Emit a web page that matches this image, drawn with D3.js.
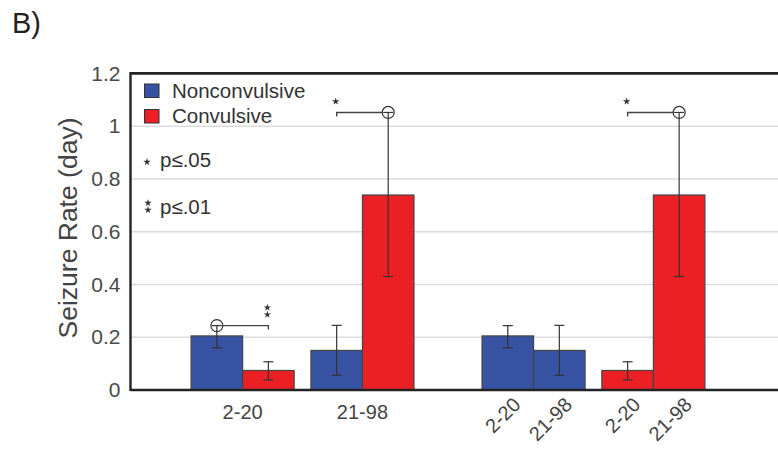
<!DOCTYPE html>
<html>
<head>
<meta charset="utf-8">
<script src="https://cdn.jsdelivr.net/npm/d3@7"></script>
<style>
  html, body { margin: 0; padding: 0; background: #fff; }
  svg { display: block; font-family: "Liberation Sans", Arial, Helvetica, sans-serif; }
</style>
</head>
<body>
<svg id="chart" width="778" height="449"></svg>
<script>
// Age groups and seizure types
const ageGroups = ["2-20", "21-98"];
const seizureTypes = ["Nonconvulsive", "Convulsive"];
const typeColors = ["#3953a4", "#ec2024"];

// Mean seizure rate per day, with lower / upper error bounds, by age group
const nonconvMean = [0.205, 0.150];
const nonconvLow  = [0.160, 0.056];
const nonconvHigh = [0.244, 0.245];
const convMean = [0.074, 0.739];
const convLow  = [0.038, 0.430];
const convHigh = [0.107, 1.052];

// Y axis ticks
const yTicks = [0, 0.2, 0.4, 0.6, 0.8, 1, 1.2];
const yTickLabels = ["0", "0.2", "0.4", "0.6", "0.8", "1", "1.2"];

// Significance markers, as [type, age] pairs: circle on the reference bar,
// bracket running to the compared bar
const sigMarks = [
  { panel: "byAge",  ref: [0, 0], target: [1, 0], stars: 2 },
  { panel: "byAge",  ref: [1, 1], target: [0, 1], stars: 1 },
  { panel: "byType", ref: [1, 1], target: [1, 0], stars: 1 }
];

const means = [nonconvMean, convMean];
const lows  = [nonconvLow, convLow];
const highs = [nonconvHigh, convHigh];

const svg = d3.select("#chart");
const W = 778;
const plotLeft = 130.5, plotTop = 73.4, plotBottom = 390;

const y = d3.scaleLinear().domain([0, 1.2]).range([plotBottom, plotTop]);

// Two panels: bars grouped by age, then grouped by seizure type
const panels = ["byAge", "byType"];
const xPanel = d3.scaleBand().domain(panels).range([130, 766])
  .paddingInner(0.234).paddingOuter(0.21);
const xPair = d3.scaleBand().domain([0, 1]).range([0, xPanel.bandwidth()]).paddingInner(0.14);
const xBar = d3.scaleBand().domain([0, 1]).range([0, xPair.bandwidth()]);

// Build the bar records: each has type index t and age index a
const bars = [];
panels.forEach(p => {
  [0, 1].forEach(pair => {
    [0, 1].forEach(slot => {
      const t = p === "byAge" ? slot : pair;
      const a = p === "byAge" ? pair : slot;
      bars.push({ panel: p, pair, slot, t, a,
        mean: means[t][a], low: lows[t][a], high: highs[t][a] });
    });
  });
});
const barX = d => xPanel(d.panel) + xPair(d.pair) + xBar(d.slot);
const barCx = d => barX(d) + xBar.bandwidth() / 2;
const findBar = (panel, t, a) => bars.find(b => b.panel === panel && b.t === t && b.a === a);

// Gridlines
svg.append("g").selectAll("line")
  .data(yTicks.filter(v => v > 0 && v < 1.2))
  .join("line")
  .attr("x1", plotLeft).attr("x2", W)
  .attr("y1", d => y(d)).attr("y2", d => y(d))
  .attr("stroke", "#dcdcdc").attr("stroke-width", 1.5);

// Bars
svg.append("g").selectAll("rect")
  .data(bars)
  .join("rect")
  .attr("x", barX)
  .attr("y", d => y(d.mean))
  .attr("width", xBar.bandwidth())
  .attr("height", d => y(0) - y(d.mean))
  .attr("fill", d => typeColors[d.t])
  .attr("stroke", "#444").attr("stroke-width", 1.2);

// Error bars
const eb = svg.append("g").attr("stroke", "#333").attr("stroke-width", 1.2);
bars.forEach(d => {
  const cx = barCx(d);
  eb.append("line").attr("x1", cx).attr("x2", cx).attr("y1", y(d.low)).attr("y2", y(d.high));
  [d.low, d.high].forEach(v => {
    eb.append("line").attr("x1", cx - 5).attr("x2", cx + 5).attr("y1", y(v)).attr("y2", y(v));
  });
});

// Significance brackets
const star = d3.symbol().type(d3.symbolStar).size(17);
const sig = svg.append("g");
sigMarks.forEach(m => {
  const rb = findBar(m.panel, m.ref[0], m.ref[1]);
  const tb = findBar(m.panel, m.target[0], m.target[1]);
  const cx = barCx(rb), cy = y(rb.high), tx = barCx(tb);
  const r = 6;
  const dir = tx > cx ? 1 : -1;
  sig.append("circle").attr("cx", cx).attr("cy", cy).attr("r", r)
    .attr("fill", "none").attr("stroke", "#333").attr("stroke-width", 1.2);
  sig.append("path")
    .attr("d", `M${cx + dir * r},${cy}H${tx}V${cy + 4}`)
    .attr("fill", "none").attr("stroke", "#444").attr("stroke-width", 1.4);
  for (let i = 0; i < m.stars; i++) {
    sig.append("path").attr("d", star)
      .attr("transform", `translate(${tx - 1},${cy - 11 - i * 7})`)
      .attr("fill", "#333");
  }
});

// Frame: left axis, top border, baseline
const frame = svg.append("g").attr("stroke", "#222").attr("fill", "none");
frame.append("line").attr("x1", plotLeft).attr("x2", W).attr("y1", plotTop).attr("y2", plotTop).attr("stroke-width", 2.6);
frame.append("line").attr("x1", plotLeft).attr("x2", plotLeft).attr("y1", plotTop - 1.3).attr("y2", plotBottom + 1).attr("stroke-width", 2.4);
frame.append("line").attr("x1", plotLeft).attr("x2", W).attr("y1", plotBottom).attr("y2", plotBottom).attr("stroke-width", 2.4);

// Y axis labels
const yAxis = d3.axisLeft(y).tickValues(yTicks)
  .tickFormat((d, i) => yTickLabels[i]).tickSize(0).tickPadding(10);
const yg = svg.append("g").attr("transform", `translate(${plotLeft},0)`).call(yAxis);
yg.select(".domain").remove();
yg.selectAll("text").attr("font-size", 21).attr("fill", "#4a4a4a")
  .attr("font-family", "Liberation Sans, Arial, sans-serif");

svg.append("text")
  .attr("transform", "translate(77,228) rotate(-90)")
  .attr("text-anchor", "middle")
  .attr("font-size", 26.5).attr("fill", "#444")
  .text("Seizure Rate (day)");

// X labels: age groups under pairs in the first panel
svg.append("g").selectAll("text")
  .data(ageGroups)
  .join("text")
  .attr("x", (d, i) => xPanel("byAge") + xPair(i) + xPair.bandwidth() / 2)
  .attr("y", 419)
  .attr("text-anchor", "middle")
  .attr("font-size", 20).attr("fill", "#444")
  .text(d => d);

// X labels: rotated age groups under each bar in the second panel
svg.append("g").selectAll("text")
  .data(bars.filter(b => b.panel === "byType"))
  .join("text")
  .attr("transform", d => `translate(${barCx(d) + 14},${406}) rotate(-45)`)
  .attr("text-anchor", "end")
  .attr("font-size", 20).attr("fill", "#444")
  .text(d => ageGroups[d.a]);

// Legend
const lg = svg.append("g");
seizureTypes.forEach((name, i) => {
  lg.append("rect").attr("x", 144.5).attr("y", 84 + i * 25.5).attr("width", 14.5).attr("height", 13.5)
    .attr("fill", typeColors[i]).attr("stroke", "#333").attr("stroke-width", 1);
  lg.append("text").attr("x", 172).attr("y", 97.5 + i * 25.5)
    .attr("font-size", 20.5).attr("fill", "#333").text(name);
});

// Significance key
const key = svg.append("g");
key.append("path").attr("d", star).attr("transform", "translate(147,162)").attr("fill", "#333");
key.append("text").attr("x", 160).attr("y", 167).attr("font-size", 20.5).attr("fill", "#333").text("p≤.05");
key.append("path").attr("d", star).attr("transform", "translate(148,203)").attr("fill", "#333");
key.append("path").attr("d", star).attr("transform", "translate(148,210)").attr("fill", "#333");
key.append("text").attr("x", 160).attr("y", 214).attr("font-size", 20.5).attr("fill", "#333").text("p≤.01");

// Panel tag
svg.append("text").attr("x", 12).attr("y", 33)
  .attr("font-size", 29).attr("fill", "#222").text("B)");
</script>
</body>
</html>
